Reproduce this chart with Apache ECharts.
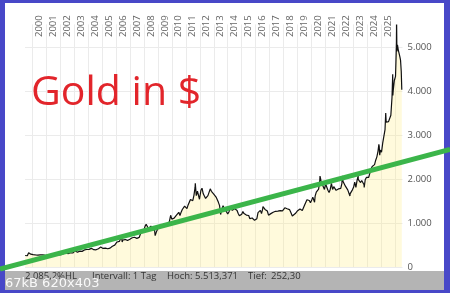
<!DOCTYPE html>
<html>
<head>
<meta charset="utf-8">
<script src="https://cdn.jsdelivr.net/npm/echarts@6/dist/echarts.min.js"></script>
<style>
  html, body { margin: 0; padding: 0; background: #4848c8; }
  #chart { width: 450px; height: 293px; }
</style>
</head>
<body>
<div id="chart"></div>
<script>
// gold in USD, month-end closes starting July 1999
const firstMonth = [1999, 7]
const close1999to2005 = [
  256, 255, 299, 299, 291, 290,
  283, 294, 277, 275, 272, 288, 277, 277, 274, 265, 269, 273,
  265, 267, 258, 263, 266, 271, 266, 273, 293, 279, 276, 277,
  282, 297, 301, 308, 327, 319, 305, 313, 324, 317, 318, 347,
  368, 347, 335, 337, 361, 346, 355, 376, 388, 386, 398, 416,
  400, 396, 424, 389, 393, 396, 391, 407, 416, 426, 453, 436,
  422, 435, 428, 436, 414, 437, 429, 433, 473, 471, 496, 513,
]
const close2006to2012 = [
  569, 556, 582, 644, 653, 614, 633, 624, 599, 604, 647, 632,
  651, 664, 662, 677, 659, 651, 666, 672, 743, 790, 784, 834,
  923, 972, 934, 871, 886, 930, 918, 833, 885, 731, 815, 870,
  920, 952, 917, 883, 976, 926, 939, 956, 996, 1040, 1176, 1088,
  1079, 1110, 1116, 1179, 1208, 1244, 1169, 1246, 1307, 1347, 1384, 1406,
  1327, 1411, 1439, 1536, 1537, 1506, 1629, 1814, 1620, 1722, 1746, 1531,
  1744, 1770, 1663, 1651, 1558, 1599, 1622, 1649, 1776, 1719, 1726, 1658,
]
const close2013to2019 = [
  1665, 1589, 1598, 1469, 1395, 1192, 1315, 1395, 1327, 1324, 1253, 1205,
  1251, 1327, 1292, 1289, 1251, 1327, 1285, 1286, 1217, 1164, 1183, 1199,
  1260, 1214, 1187, 1180, 1191, 1171, 1098, 1135, 1114, 1142, 1061, 1060,
  1098, 1235, 1237, 1286, 1212, 1321, 1342, 1309, 1323, 1272, 1178, 1146,
  1213, 1256, 1245, 1266, 1266, 1242, 1270, 1312, 1283, 1270, 1275, 1297,
  1345, 1318, 1324, 1315, 1305, 1250, 1221, 1202, 1187, 1215, 1221, 1279,
  1320, 1319, 1295, 1284, 1306, 1409, 1428, 1528, 1485, 1511, 1460, 1515,
]
const close2020to2025 = [
  1589, 1610, 1609, 1703, 1716, 1768, 1963, 1968, 1887, 1880, 1763, 1888,
  1863, 1743, 1691, 1768, 1900, 1763, 1826, 1818, 1743, 1783, 1774, 1806,
  1788, 1901, 1942, 1897, 1837, 1817, 1753, 1728, 1661, 1641, 1753, 1812,
  1929, 1811, 1969, 1990, 1963, 1919, 1965, 1942, 1870, 1983, 2036, 2062,
  2039, 2044, 2230, 2286, 2326, 2327, 2427, 2503, 2635, 2744, 2657, 2610,
  2813, 2858, 3123, 3289, 3290, 3303, 3290, 3448, 3859, 4002, 4239, 4331,
]
// intra-month highs and lows seen in the picture, [decimal year, USD]
const extremes = [
  [1999.51, 262], [1999.55, 252], [1999.76, 325], [2001.3, 256],
  [2006.36, 725], [2006.45, 567], [2008.21, 1011], [2008.81, 712],
  [2009.93, 1218], [2011.68, 1900], [2011.98, 1540], [2012.16, 1790],
  [2012.76, 1790], [2013.49, 1192], [2015.96, 1046], [2016.52, 1375],
  [2018.62, 1160], [2020.21, 1471], [2020.6, 2067], [2022.19, 2070],
  [2022.74, 1614], [2023.33, 2075], [2023.76, 1810], [2024.81, 2790],
  [2024.87, 2540], [2025.3, 3500], [2025.8, 4380], [2025.81, 3900],
]
const tail2026 = [
  [2026.03, 4650], [2026.07, 5100], [2026.08, 5513], [2026.1, 4900],
  [2026.14, 5050], [2026.2, 4930], [2026.26, 4850], [2026.31, 4780],
  [2026.36, 4700], [2026.41, 4450], [2026.45, 4030],
]
// green trend line, runs across the whole picture
const trendLine = [[1997.71, -45], [2029.9, 2670]]
const highValue = 5513.371
const statsTexts = ['2.085,2%HL', 'Intervall: 1 Tag', 'Hoch: 5.513,371', 'Tief:', '252,30']
const statsX = [25, 92, 167, 248, 271]

const monthly = [].concat(close1999to2005, close2006to2012, close2013to2019, close2020to2025)
const points = monthly
  .map((v, i) => [firstMonth[0] + (firstMonth[1] + i) / 12, v])
  .concat(extremes, tail2026)
  .sort((a, b) => a[0] - b[0])

function thousands(v) {
  return String(v).replace(/\B(?=(\d{3})+(?!\d))/g, '.')
}

function frameGraphics(trend) {
  const items = [
    { type: 'rect', z: -10, shape: { x: 5, y: 3, width: 439, height: 287 }, style: { fill: '#fff' } },
    { type: 'rect', z: -9, shape: { x: 5, y: 271, width: 439, height: 19 }, style: { fill: '#b4b4b4' } },
    {
      type: 'text', z: 5,
      style: { x: 31, y: 93, text: 'Gold in $', fill: '#e2252b', font: '41px "Open Sans"', verticalAlign: 'middle' },
    },
    ...statsTexts.map((t, i) => ({
      type: 'text', z: 5,
      style: { x: statsX[i], y: 276.5, text: t, fill: '#333', font: '9.5px "Open Sans"', verticalAlign: 'middle' },
    })),
    {
      type: 'text', z: 6,
      style: { x: 5, y: 283.5, text: '67kB 620x403', fill: 'rgba(255,255,255,0.92)', font: '13px "DejaVu Sans"', verticalAlign: 'middle' },
    },
  ]
  if (trend) {
    items.push({
      type: 'line', z: 50,
      shape: { x1: trend[0][0], y1: trend[0][1], x2: trend[1][0], y2: trend[1][1] },
      style: { stroke: '#3bb54a', lineWidth: 5 },
    })
  }
  return items
}

const chart = echarts.init(document.getElementById('chart'))
chart.setOption({
  animation: false,
  backgroundColor: 'transparent',
  grid: { left: 25, right: 47.5, top: 24.4, bottom: 26 },
  xAxis: {
    type: 'value',
    position: 'top',
    min: 1999.5,
    max: 2026.5,
    interval: 0.5,
    axisLine: { show: false },
    axisTick: { show: false },
    splitLine: { show: true, lineStyle: { color: ['rgba(0,0,0,0)', '#ebebeb'], width: 1 } },
    axisLabel: {
      rotate: 90,
      margin: -12.6,
      fontSize: 9.5,
      fontFamily: 'Open Sans',
      color: '#666',
      showMinLabel: false,
      showMaxLabel: false,
      formatter: v => (v % 1 === 0.5 ? String(Math.floor(v)) : ''),
    },
  },
  yAxis: {
    type: 'value',
    position: 'right',
    min: 0,
    max: highValue,
    interval: 1000,
    axisLine: { show: false },
    axisTick: { show: false },
    splitLine: { show: true, showMaxLine: false, lineStyle: { color: '#ebebeb' } },
    axisLabel: {
      margin: 5,
      fontSize: 9.5,
      fontFamily: 'Open Sans',
      color: '#555',
      showMaxLabel: false,
      formatter: v => thousands(v),
    },
  },
  graphic: frameGraphics(null),
  series: [
    {
      type: 'line',
      data: points,
      symbol: 'none',
      lineStyle: { color: '#111', width: 1.2 },
      areaStyle: { color: 'rgba(255,236,130,0.4)' },
      z: 2,
    },
  ],
})

// the trend line leaves the plot, so place it with the chart's own scales
const trendPx = trendLine.map(p => chart.convertToPixel({ gridIndex: 0 }, p))
chart.setOption({ graphic: frameGraphics(trendPx) })
</script>
</body>
</html>
